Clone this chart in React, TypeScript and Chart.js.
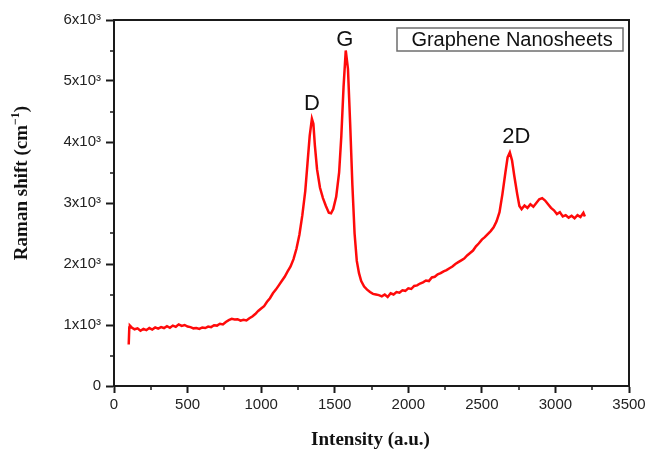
import React, { useEffect, useRef } from "react";
import { Chart, registerables } from "chart.js";

Chart.register(...registerables);

// Raman spectrum
const wavenumbers = [
  100, 104, 108, 120, 140, 160, 180, 200, 220, 240, 260, 280, 300, 320, 340, 360, 380, 400, 420, 440,
  460, 480, 500, 520, 540, 560, 580, 600, 620, 640, 660, 680, 700, 720, 740, 760, 780, 800, 820, 840,
  860, 880, 900, 920, 940, 960, 980, 1000, 1020, 1040, 1060, 1080, 1100, 1120, 1140, 1160, 1180, 1200,
  1220, 1240, 1260, 1280, 1300, 1315, 1330, 1345, 1355, 1365, 1380, 1400, 1420, 1440, 1460, 1475, 1490,
  1510, 1530, 1545, 1560, 1575, 1590, 1605, 1620, 1635, 1650, 1665, 1680, 1700, 1720, 1740, 1760, 1780,
  1800, 1820, 1840, 1860, 1880, 1900, 1920, 1940, 1960, 1980, 2000, 2020, 2040, 2060, 2080, 2100, 2120,
  2140, 2160, 2180, 2200, 2220, 2240, 2260, 2280, 2300, 2320, 2340, 2360, 2380, 2400, 2420, 2440, 2460,
  2480, 2500, 2520, 2540, 2560, 2580, 2600, 2620, 2640, 2660, 2675, 2690, 2705, 2720, 2740, 2755, 2770,
  2790, 2810, 2830, 2850, 2870, 2890, 2910, 2930, 2950, 2970, 2990, 3010, 3030, 3050, 3070, 3090, 3110,
  3130, 3150, 3170, 3190, 3200,
];

const intensities = [
  680, 960, 990, 960, 930, 945, 905, 935, 915, 950, 925, 960, 940, 965, 950, 980, 955, 990, 970, 1010,
  985, 1000, 975, 965, 945, 950, 935, 960, 950, 975, 965, 995, 990, 1020, 1010, 1050, 1080, 1100, 1090, 1095,
  1070, 1085, 1075, 1110, 1140, 1180, 1230, 1270, 1310, 1380, 1440, 1520, 1580, 1650, 1720, 1790, 1880, 1960,
  2080, 2250, 2480, 2800, 3200, 3650, 4100, 4380, 4300, 3950, 3550, 3250, 3080, 2950, 2840, 2830, 2900,
  3100, 3500, 4100, 4900, 5500, 5200, 4300, 3300, 2500, 2050, 1850, 1720, 1630, 1580, 1540, 1510, 1500,
  1490, 1470, 1500, 1460, 1520, 1500, 1540, 1530, 1570, 1560, 1600, 1590, 1640, 1650, 1680, 1700, 1730,
  1720, 1780, 1790, 1830, 1850, 1880, 1900, 1930, 1960, 2000, 2030, 2060, 2090, 2140, 2180, 2220, 2290,
  2340, 2400, 2440, 2490, 2540, 2600, 2700, 2850, 3150, 3500, 3750, 3830, 3700, 3450, 3150, 2950, 2900,
  2960, 2920, 2980, 2940, 3000, 3060, 3080, 3040, 2980, 2920, 2880, 2820, 2850, 2780, 2800, 2760, 2790,
  2750, 2800, 2770, 2840, 2780,
];

const xTickStep = 500;
const yTickStep = 1000;
const xRange = [0, 3500];
const yRange = [0, 6000];

const peakLabels = ["D", "G", "2D"];
const peakLabelX = [1345, 1569, 2735];
const peakLabelY = [4624, 5679, 4076];

const legendText = "Graphene Nanosheets";
const xTitle = "Intensity (a.u.)";
const yTitleMain = "Raman shift (cm";
const yTitleSup = "\u22121";
const yTitleEnd = ")";

const decorPlugin = {
  id: "decor",
  afterDraw(chart: any) {
    const { ctx, chartArea } = chart;
    const { left, right, top, bottom } = chartArea;
    const xs = chart.scales.x;
    const ys = chart.scales.y;
    ctx.save();

    // frame top & right
    ctx.strokeStyle = "#1a1a1a";
    ctx.lineWidth = 2;
    ctx.beginPath();
    ctx.moveTo(left - 1, top);
    ctx.lineTo(right, top);
    ctx.lineTo(right, bottom + 1);
    ctx.stroke();

    // minor ticks
    ctx.lineWidth = 1.5;
    ctx.beginPath();
    for (let v = xRange[0] + xTickStep / 2; v < xRange[1]; v += xTickStep) {
      const px = Math.round(xs.getPixelForValue(v));
      ctx.moveTo(px, bottom);
      ctx.lineTo(px, bottom + 4);
    }
    for (let v = yRange[0] + yTickStep / 2; v < yRange[1]; v += yTickStep) {
      const py = Math.round(ys.getPixelForValue(v));
      ctx.moveTo(left, py);
      ctx.lineTo(left - 4, py);
    }
    ctx.stroke();

    // legend box
    const bx = right - 232;
    const by = top + 8;
    const bw = 226;
    const bh = 23;
    ctx.strokeStyle = "#6e6e6e";
    ctx.lineWidth = 1.5;
    ctx.strokeRect(bx, by, bw, bh);
    ctx.fillStyle = "#111";
    ctx.font = "20px 'Liberation Sans', Arial, sans-serif";
    ctx.textAlign = "center";
    ctx.textBaseline = "middle";
    ctx.fillText(legendText, bx + bw / 2 + 2, by + bh / 2 + 1);

    // peak annotations
    ctx.font = "22px 'Liberation Sans', Arial, sans-serif";
    for (let i = 0; i < peakLabels.length; i++) {
      ctx.fillText(
        peakLabels[i],
        xs.getPixelForValue(peakLabelX[i]),
        ys.getPixelForValue(peakLabelY[i])
      );
    }

    // x title
    ctx.fillStyle = "#111";
    ctx.font = "bold 19px 'Liberation Serif', 'Times New Roman', serif";
    ctx.textAlign = "center";
    ctx.textBaseline = "middle";
    ctx.fillText(xTitle, (left + right) / 2 - 1, 440);

    // y title (rotated)
    ctx.save();
    ctx.translate(21, 183);
    ctx.rotate(-Math.PI / 2);
    const mainFont = "bold 19px 'Liberation Serif', 'Times New Roman', serif";
    const supFont = "bold 12px 'Liberation Serif', 'Times New Roman', serif";
    ctx.font = mainFont;
    const w1 = ctx.measureText(yTitleMain).width;
    const w3 = ctx.measureText(yTitleEnd).width;
    ctx.font = supFont;
    const w2 = ctx.measureText(yTitleSup).width;
    const total = w1 + w2 + w3;
    let cx = -total / 2;
    ctx.textAlign = "left";
    ctx.textBaseline = "alphabetic";
    ctx.font = mainFont;
    ctx.fillText(yTitleMain, cx, 6);
    cx += w1;
    ctx.font = supFont;
    ctx.fillText(yTitleSup, cx, -2);
    cx += w2;
    ctx.font = mainFont;
    ctx.fillText(yTitleEnd, cx, 6);
    ctx.restore();

    ctx.restore();
  },
};

export default function App() {
  const ref = useRef<HTMLCanvasElement>(null);

  useEffect(() => {
    const points = wavenumbers.map((x, i) => ({ x, y: intensities[i] }));
    const tickFont = { family: "'Liberation Sans', Arial, sans-serif", size: 15 };
    const chart = new Chart(ref.current as HTMLCanvasElement, {
      type: "line",
      data: {
        datasets: [
          {
            label: legendText,
            data: points,
            borderColor: "#ff0a0a",
            borderWidth: 2.5,
            pointRadius: 0,
            tension: 0,
            fill: false,
          },
        ],
      },
      options: {
        responsive: false,
        devicePixelRatio: 1,
        animation: false,
        events: [],
        layout: { padding: { left: 0, right: 21, top: 20, bottom: 0 } },
        plugins: {
          legend: { display: false },
          tooltip: { enabled: false },
        },
        scales: {
          x: {
            type: "linear",
            min: xRange[0],
            max: xRange[1],
            afterFit: (s: any) => {
              s.height = 65;
            },
            ticks: {
              stepSize: xTickStep,
              color: "#222",
              font: tickFont,
              padding: 3,
              maxRotation: 0,
              autoSkip: false,
              callback: (v: any) => String(v),
            },
            grid: {
              drawOnChartArea: false,
              tickLength: 7,
              tickColor: "#1a1a1a",
              tickWidth: 2,
            },
            border: { color: "#1a1a1a", width: 2 },
          },
          y: {
            type: "linear",
            min: yRange[0],
            max: yRange[1],
            afterFit: (s: any) => {
              s.width = 114;
            },
            ticks: {
              stepSize: yTickStep,
              color: "#222",
              font: tickFont,
              padding: 5,
              callback: (v: any) => (v === 0 ? "0" : `${v / 1000}x10\u00B3`),
            },
            grid: {
              drawOnChartArea: false,
              tickLength: 8,
              tickColor: "#1a1a1a",
              tickWidth: 2,
            },
            border: { color: "#1a1a1a", width: 2 },
          },
        },
      },
      plugins: [decorPlugin],
    });
    return () => chart.destroy();
  }, []);

  return (
    <div style={{ position: "fixed", left: 0, top: 0, width: 650, height: 451, background: "#fff" }}>
      <canvas ref={ref} width={650} height={451} style={{ display: "block", width: 650, height: 451 }} />
    </div>
  );
}
